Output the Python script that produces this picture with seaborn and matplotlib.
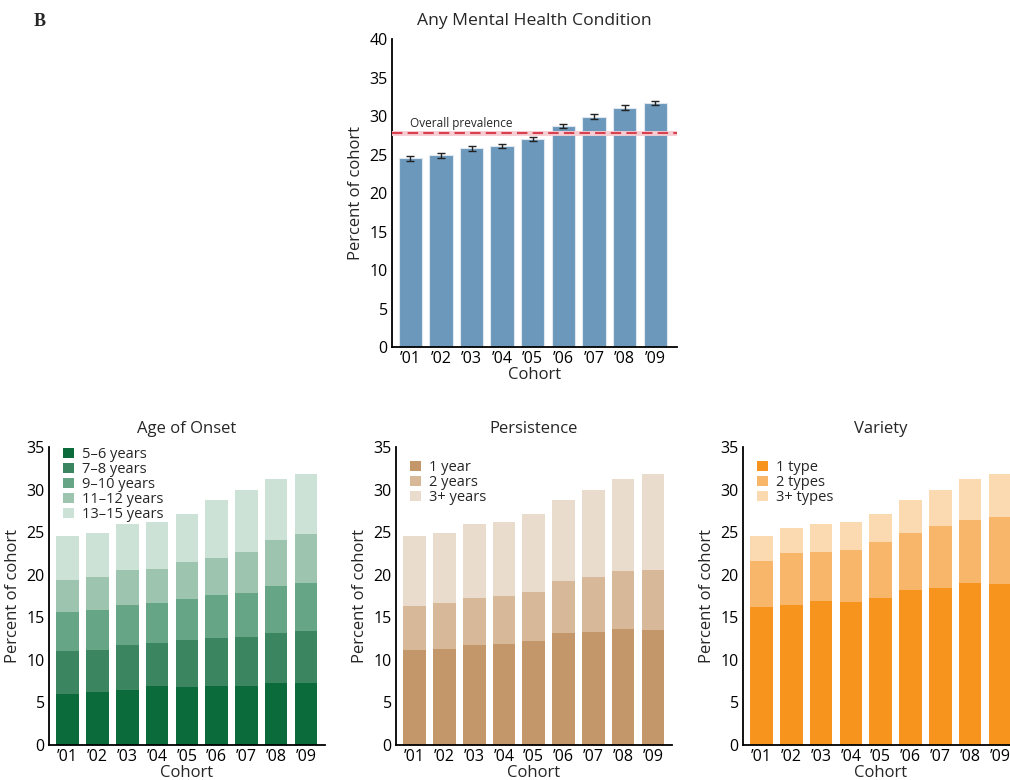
import numpy as np
import pandas as pd
import seaborn as sns
import matplotlib.pyplot as plt
from matplotlib.patches import Patch

sns.set_style("white")
plt.rcParams["font.family"] = ["Open Sans", "DejaVu Sans"]

cohorts = ["\u201901", "\u201902", "\u201903", "\u201904", "\u201905",
           "\u201906", "\u201907", "\u201908", "\u201909"]

# Any mental health condition (percent of cohort)
any_mh = [24.5, 24.9, 25.8, 26.1, 27.0, 28.7, 29.9, 31.1, 31.7]
any_err = [0.3, 0.3, 0.3, 0.3, 0.3, 0.3, 0.3, 0.3, 0.3]
overall_prev = 27.8

# Age of onset, cumulative tops of each segment
onset_labels = ["5\u20136 years", "7\u20138 years", "9\u201310 years",
                "11\u201312 years", "13\u201315 years"]
onset_cum = [
    [6.0, 6.2, 6.5, 6.9, 6.8, 6.9, 6.9, 7.3, 7.3],
    [11.0, 11.2, 11.7, 12.0, 12.3, 12.5, 12.7, 13.1, 13.4],
    [15.6, 15.9, 16.4, 16.7, 17.1, 17.6, 17.9, 18.7, 19.0],
    [19.4, 19.7, 20.6, 20.7, 21.5, 22.0, 22.7, 24.1, 24.8],
    [24.5, 24.9, 25.9, 26.2, 27.1, 28.8, 30.0, 31.2, 31.8],
]
onset_colors = ["#0b6b3b", "#3b8561", "#66a585", "#9cc4ae", "#cde2d6"]

# Persistence, cumulative
persist_labels = ["1 year", "2 years", "3+ years"]
persist_cum = [
    [11.2, 11.3, 11.7, 11.9, 12.2, 13.1, 13.3, 13.6, 13.45],
    [16.3, 16.7, 17.2, 17.45, 18.0, 19.2, 19.7, 20.4, 20.5],
    [24.5, 24.9, 25.9, 26.2, 27.1, 28.8, 30.0, 31.2, 31.8],
]
persist_colors = ["#c4976b", "#d7b898", "#e9dccc"]

# Variety, cumulative
variety_labels = ["1 type", "2 types", "3+ types"]
variety_cum = [
    [16.2, 16.4, 16.9, 16.8, 17.3, 18.2, 18.4, 19.0, 18.9],
    [21.6, 22.5, 22.7, 22.9, 23.8, 24.9, 25.7, 26.4, 26.8],
    [24.5, 25.45, 25.9, 26.2, 27.1, 28.8, 30.0, 31.2, 31.8],
]
variety_colors = ["#f7941e", "#f8b66b", "#fbd9b1"]

fig = plt.figure(figsize=(10.1, 7.8), dpi=100)


def style_axes(ax, ymax, title, title_size=12):
    ax.set_ylim(0, ymax)
    ax.set_yticks(np.arange(0, ymax + 1, 5))
    ax.set_xlim(-0.63, 8.63)
    sns.despine(ax=ax)
    for s in ["left", "bottom"]:
        ax.spines[s].set_color("black")
        ax.spines[s].set_linewidth(1.3)
    ax.tick_params(length=0, labelsize=11.5, colors="black", pad=3)
    ax.set_xlabel("Cohort", fontsize=12, labelpad=0)
    ax.set_ylabel("Percent of cohort", fontsize=12, labelpad=4)
    ax.set_title(title, fontsize=title_size, pad=10)


def stacked(ax, cum, colors, labels, title, legend_top):
    df = pd.DataFrame({"Cohort": cohorts})
    for i in range(len(cum) - 1, -1, -1):
        df["v"] = cum[i]
        sns.barplot(data=df, x="Cohort", y="v", color=colors[i], ax=ax,
                    width=0.76, saturation=1, linewidth=0)
    style_axes(ax, 35, title)
    handles = [Patch(facecolor=c, edgecolor="none") for c in colors]
    ax.legend(handles, labels, loc="upper left", bbox_to_anchor=(0.05, legend_top),
              frameon=False, fontsize=10.5, handlelength=0.75, handleheight=0.75,
              handletextpad=0.6, labelspacing=0.0, borderaxespad=0, borderpad=0)


# Top panel
ax0 = fig.add_axes([0.388, 0.555, 0.282, 0.395])
top_df = pd.DataFrame({"Cohort": cohorts, "Percent": any_mh})
sns.barplot(data=top_df, x="Cohort", y="Percent", color="#6b98bb", ax=ax0,
            width=0.76, saturation=1, edgecolor="#dfe8f0", linewidth=0.8)
ax0.errorbar(range(len(cohorts)), any_mh, yerr=any_err, fmt="none",
             ecolor="#222222", elinewidth=1, capsize=3, capthick=1)
ax0.axhline(overall_prev, color="#f6cdd2", linewidth=3.5, zorder=3)
ax0.axhline(overall_prev, color="#d8404f", linewidth=1.5, linestyle=(0, (5, 2.5)), zorder=4)
ax0.text(0.0, overall_prev + 0.45, "Overall prevalence", fontsize=8.5, va="bottom", ha="left")
style_axes(ax0, 40, "Any Mental Health Condition", title_size=12.6)
ax0.set_xlim(-0.6, 8.7)

# Bottom panels
ax1 = fig.add_axes([0.0485, 0.045, 0.273, 0.382])
stacked(ax1, onset_cum, onset_colors, onset_labels, "Age of Onset", 1.0)
ax2 = fig.add_axes([0.392, 0.045, 0.273, 0.382])
stacked(ax2, persist_cum, persist_colors, persist_labels, "Persistence", 0.956)
ax3 = fig.add_axes([0.7355, 0.045, 0.273, 0.382])
stacked(ax3, variety_cum, variety_colors, variety_labels, "Variety", 0.956)

fig.text(0.033, 0.972, "B", family=["Liberation Serif", "DejaVu Serif"],
         fontweight="bold", fontsize=13, va="center")

fig.savefig("out.png", dpi=100)
